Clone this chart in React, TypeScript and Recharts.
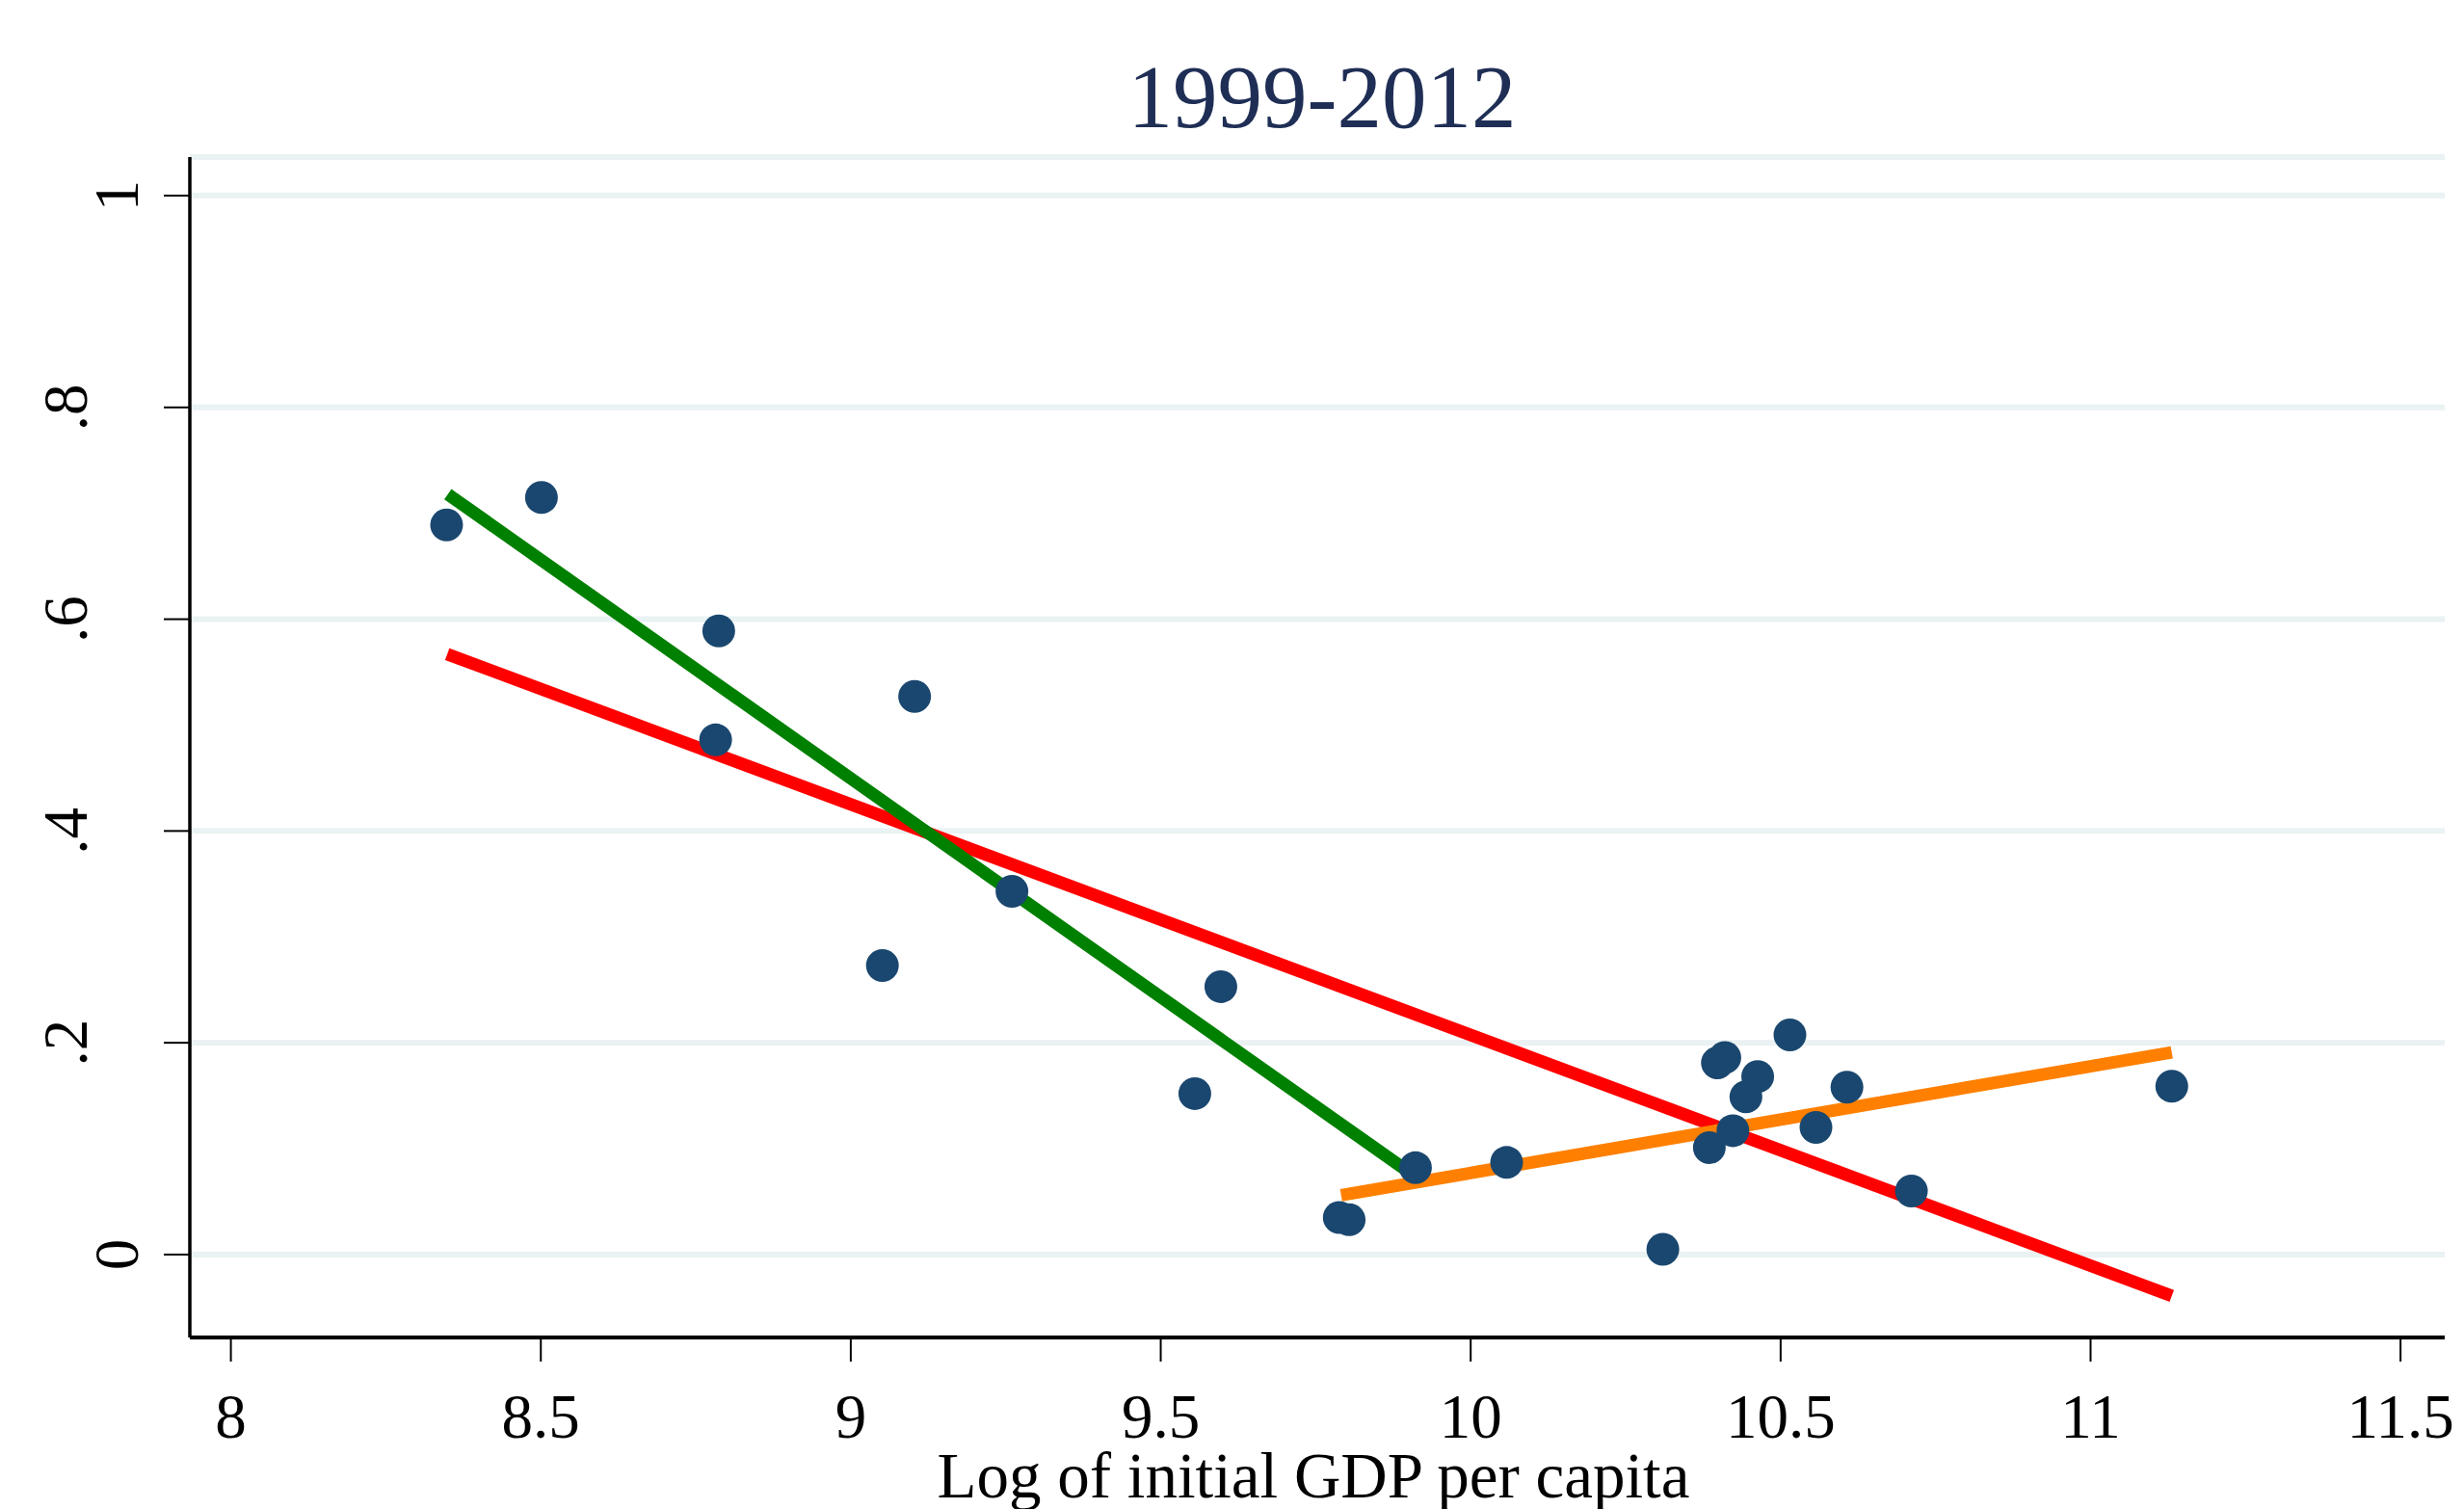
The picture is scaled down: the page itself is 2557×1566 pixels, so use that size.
import { ComposedChart, Scatter, Line, XAxis, YAxis, CartesianGrid } from 'recharts';

// Log of initial GDP per capita (x) against the outcome (y), 1999-2012
const gdpLog = [
  8.348, 8.501, 8.787, 8.782, 9.103, 9.051, 9.26, 9.555, 9.597, 9.788, 9.804, 9.911, 10.058,
  10.31, 10.385, 10.398, 10.41, 10.423, 10.444, 10.463, 10.515, 10.557, 10.607, 10.711, 11.131,
];
const outcome = [
  0.689, 0.715, 0.589, 0.486, 0.527, 0.273, 0.343, 0.152, 0.253, 0.035, 0.033, 0.082, 0.087,
  0.005, 0.101, 0.181, 0.186, 0.117, 0.149, 0.168, 0.2075, 0.12, 0.158, 0.06, 0.159,
];

// fitted lines: whole sample, poorer group, richer group
const fitAllX = [8.349, 11.131];
const fitAllY = [0.567, -0.039];
const fitLowX = [8.35, 9.905];
const fitLowY = [0.718, 0.076];
const fitHighX = [9.791, 11.131];
const fitHighY = [0.056, 0.191];

const xTicks = [8, 8.5, 9, 9.5, 10, 10.5, 11, 11.5];
const yTicks = [0, 0.2, 0.4, 0.6, 0.8, 1];
const yTickLabels = ['0', '.2', '.4', '.6', '.8', '1'];

const FONT = '"Liberation Serif", "DejaVu Serif", serif';
const W = 2557;
const H = 1566;

const rows = (xs: number[], ys: number[]) => xs.map((x, i) => ({ x, y: ys[i] }));
const points = rows(gdpLog, outcome);

const XTick = ({ x, y, payload }: any) => (
  <text x={x} y={y + 79} textAnchor="middle" fontFamily={FONT} fontSize={65} fill="#000">
    {String(payload.value)}
  </text>
);

const YTick = ({ x, y, payload }: any) => {
  const label = yTickLabels[yTicks.indexOf(payload.value)] ?? String(payload.value);
  // Stata pushes the wider labels further from the axis
  const bx = x - 27 - 53 * (label.length - 1);
  return (
    <text
      x={bx}
      y={y}
      transform={`rotate(-90 ${bx} ${y})`}
      textAnchor="middle"
      fontFamily={FONT}
      fontSize={65}
      fill="#000"
    >
      {label}
    </text>
  );
};

const Dot = ({ cx, cy }: any) => <circle cx={cx} cy={cy} r={17} fill="#1a476f" />;

export default function App() {
  return (
    <div style={{ position: 'absolute', left: 0, top: 0, width: W, height: H, background: '#fff' }}>
      <ComposedChart width={W} height={H} margin={{ top: 163, right: 20, bottom: 0, left: 0 }}>
        <CartesianGrid vertical={false} stroke="#eaf2f3" strokeWidth={6} />
        <XAxis
          type="number"
          dataKey="x"
          domain={[7.9338, 11.5713]}
          ticks={xTicks}
          interval={0}
          allowDataOverflow
          height={178}
          tickSize={25}
          tickMargin={0}
          axisLine={{ stroke: '#000', strokeWidth: 4 }}
          tickLine={{ stroke: '#000', strokeWidth: 2 }}
          tick={<XTick />}
          label={{
            content: ({ viewBox }: any) => (
              <text
                x={viewBox.x + viewBox.width / 2 - 4}
                y={viewBox.y + 166}
                textAnchor="middle"
                fontFamily={FONT}
                fontSize={67}
                fill="#000"
              >
                Log of initial GDP per capita
              </text>
            ),
          }}
        />
        <YAxis
          type="number"
          dataKey="y"
          domain={[-0.0783, 1.0364]}
          ticks={yTicks}
          interval={0}
          allowDataOverflow
          width={197}
          tickSize={27}
          tickMargin={0}
          axisLine={{ stroke: '#000', strokeWidth: 3.5 }}
          tickLine={{ stroke: '#000', strokeWidth: 2 }}
          tick={<YTick />}
        />
        <Scatter data={points} dataKey="y" shape={<Dot />} isAnimationActive={false} />
        <Line
          data={rows(fitAllX, fitAllY)}
          dataKey="y"
          type="linear"
          stroke="#ff0000"
          strokeWidth={13}
          dot={false}
          activeDot={false}
          isAnimationActive={false}
        />
        <Line
          data={rows(fitLowX, fitLowY)}
          dataKey="y"
          type="linear"
          stroke="#008000"
          strokeWidth={13}
          dot={false}
          activeDot={false}
          isAnimationActive={false}
        />
        <Line
          data={rows(fitHighX, fitHighY)}
          dataKey="y"
          type="linear"
          stroke="#ff8000"
          strokeWidth={13}
          dot={false}
          activeDot={false}
          isAnimationActive={false}
        />
      </ComposedChart>
      <svg width={W} height={H} style={{ position: 'absolute', left: 0, top: 0, pointerEvents: 'none' }}>
        <text x={1372} y={132} textAnchor="middle" fontFamily={FONT} fontSize={93} fill="#1f2e55">
          1999-2012
        </text>
      </svg>
    </div>
  );
}
